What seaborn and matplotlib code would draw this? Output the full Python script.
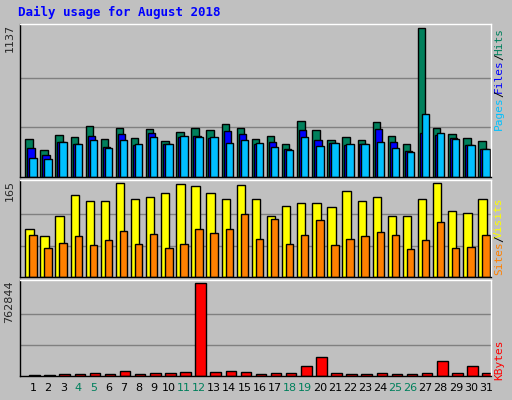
import numpy as np
import matplotlib
matplotlib.use("Agg")
import matplotlib.pyplot as plt
import seaborn as sns
import pandas as pd

days = list(range(1, 32))
weekend = [4, 5, 11, 12, 18, 19, 25, 26]
hits = [288, 203, 319, 304, 388, 288, 373, 296, 365, 273, 342, 373, 358, 404, 373, 288,
        311, 250, 427, 358, 280, 304, 280, 419, 311, 250, 1137, 373, 327, 296, 273]
files = [219, 172, 265, 250, 311, 226, 327, 242, 334, 250, 304, 311, 296, 350, 327, 250,
         265, 211, 358, 280, 257, 242, 250, 365, 265, 196, 334, 319, 296, 242, 211]
pages = [149, 141, 265, 250, 280, 219, 280, 250, 304, 250, 311, 304, 304, 257, 280, 257,
         226, 203, 304, 234, 257, 250, 250, 265, 219, 188, 481, 334, 288, 242, 211]
visits = [84, 72, 106, 143, 134, 134, 164, 136, 141, 147, 163, 159, 147, 136, 161, 136,
          107, 125, 129, 129, 123, 150, 134, 141, 107, 107, 136, 165, 116, 113, 136]
sites = [74, 50, 59, 72, 56, 65, 81, 58, 75, 50, 58, 84, 77, 84, 111, 66,
         102, 58, 74, 100, 56, 66, 72, 79, 74, 49, 65, 97, 50, 52, 74]
kbytes = [8000, 8000, 19500, 19500, 28000, 19500, 44500, 19500, 28000, 28000, 36000, 762844,
          36000, 44500, 36000, 19500, 28000, 28000, 78000, 153000, 28000, 19500, 19500, 28000,
          19500, 19500, 28000, 120000, 28000, 78000, 28000]

sns.set_style("white")
plt.rcParams['font.family'] = ['DejaVu Sans']
BG = "#C0C0C0"
GREEN = "#00805C"

fig = plt.figure(figsize=(5.12, 4.0), dpi=100, facecolor=BG)
x = np.array(days)
xl = (0.14, 31.33)


def panel(rect, ymax):
    ax = fig.add_axes(rect)
    ax.set_facecolor(BG)
    ax.set_xlim(*xl)
    ax.set_ylim(0, ymax * 1.03)
    for f in (1 / 3, 2 / 3):
        ax.axhline(ymax * f, color="#808080", lw=1, zorder=0)
    ax.set_xticks([])
    ax.set_yticks([])
    for s in ax.spines.values():
        s.set_color("black")
        s.set_linewidth(1)
    ax.spines["top"].set_color("white")
    ax.spines["right"].set_color("white")
    ax.text(-0.012, 1.0, str(ymax), transform=ax.transAxes, rotation=90,
            ha="right", va="top", fontsize=8)
    return ax


kw = dict(align="edge", edgecolor="black", linewidth=1)

ax1 = panel([20 / 512, 223 / 400, 471 / 512, 153 / 400], max(hits))
ax1.bar(x - 0.51, hits, 0.49, color=GREEN, **kw)
ax1.bar(x - 0.38, files, 0.49, color="#0000FF", **kw)
ax1.bar(x - 0.25, pages, 0.49, color="#00C0FF", **kw)

ax2 = panel([20 / 512, 123 / 400, 471 / 512, 97 / 400], max(visits))
ax2.bar(x - 0.51, visits, 0.55, color="#FFFF00", **kw)
ax2.bar(x - 0.25, sites, 0.49, color="#FF8000", **kw)

ax3 = panel([20 / 512, 24 / 400, 471 / 512, 96 / 400], max(kbytes))
df = pd.DataFrame({"day": x + 0.1, "kb": kbytes})
sns.barplot(data=df, x="day", y="kb", native_scale=True, color="#FF0000",
            width=0.7, edgecolor="black", linewidth=1, saturation=1, ax=ax3)
ax3.set_xlim(*xl)
ax3.set_xlabel("")
ax3.set_ylabel("")
ax3.set_xticks([])
ax3.set_yticks([])

for d in days:
    ax3.text(d, -0.13, str(d), transform=ax3.get_xaxis_transform(), ha="center",
             va="center", fontsize=8, color=GREEN if d in weekend else "black")

CW = 6.2  # pixels per character along the rotated label


def side(parts, top_px):
    y = top_px
    for txt, col in parts:
        fig.text(494 / 512, 1 - y / 400, txt, rotation=90, ha="left", va="top",
                 fontsize=8, family="DejaVu Sans Mono", color=col)
        y += len(txt) * CW


side([("Hits", GREEN), ("/", "black"), ("Files", "#0000FF"),
      ("/", "black"), ("Pages", "#00C0FF")], 28)
side([("Visits", "#FFFF00"), ("/", "black"), ("Sites", "#FF8000")], 198)
side([("KBytes", "#FF0000")], 340)

fig.text(18 / 512, 1 - 12 / 400, "Daily usage for August 2018", fontsize=9,
         fontweight="bold", family="DejaVu Sans Mono", color="#0000FF", va="center")

fig.savefig("out.png", dpi=100, facecolor=BG)
